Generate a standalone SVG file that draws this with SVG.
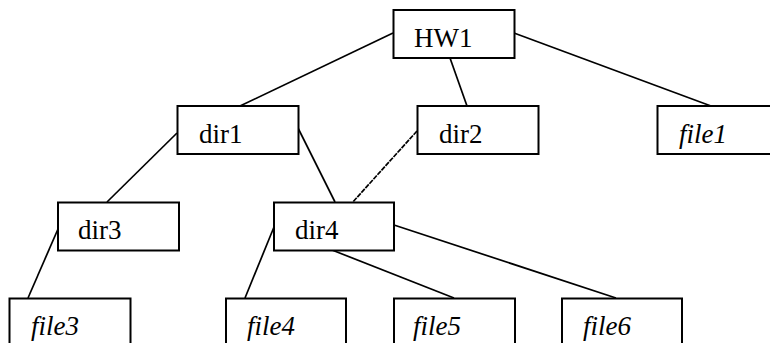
<svg xmlns="http://www.w3.org/2000/svg" width="770" height="343" viewBox="0 0 770 343">
<style>
.box{fill:#fff;stroke:#000;stroke-width:2}
.t{font-size:27px;fill:#000}
.i{font-style:italic}
.c{stroke:#000;stroke-width:1.7;fill:none}
.d{stroke-dasharray:5 1}
</style>
<rect width="770" height="343" fill="#fff"/>
<g id="connectors">
<line class="c" x1="393" y1="33" x2="240" y2="106"/>
<line class="c" x1="450" y1="58" x2="467" y2="106"/>
<line class="c" x1="514" y1="33" x2="711" y2="106"/>
<line class="c" x1="177" y1="133" x2="107" y2="202"/>
<line class="c" x1="298" y1="128" x2="335" y2="202"/>
<line class="c d" x1="417" y1="131" x2="352" y2="203"/>
<line class="c" x1="58" y1="229" x2="28" y2="298"/>
<line class="c" x1="274" y1="227" x2="245" y2="298"/>
<line class="c" x1="332" y1="250" x2="454" y2="298"/>
<line class="c" x1="394" y1="225" x2="616" y2="298"/>
</g>
<g font-family="Liberation Serif, Times New Roman, serif">
<g id="HW1"><rect class="box" x="393.5" y="10" width="121" height="48"/><text class="t" x="414" y="47">HW1</text></g>
<g id="dir1"><rect class="box" x="177.5" y="106" width="121" height="48"/><text class="t" x="199" y="143">dir1</text></g>
<g id="dir2"><rect class="box" x="417.5" y="106" width="121" height="48"/><text class="t" x="439" y="143">dir2</text></g>
<g id="file1"><rect class="box" x="657.5" y="106" width="121" height="48"/><text class="t i" x="679" y="143">file1</text></g>
<g id="dir3"><rect class="box" x="58" y="202.5" width="121" height="48"/><text class="t" x="78" y="239">dir3</text></g>
<g id="dir4"><rect class="box" x="274" y="202.5" width="120" height="48"/><text class="t" x="295" y="239">dir4</text></g>
<g id="file3"><rect class="box" x="9.5" y="298.5" width="121" height="48"/><text class="t i" x="31" y="335">file3</text></g>
<g id="file4"><rect class="box" x="226" y="298.5" width="120" height="48"/><text class="t i" x="247" y="335">file4</text></g>
<g id="file5"><rect class="box" x="394" y="298.5" width="121" height="48"/><text class="t i" x="413" y="335">file5</text></g>
<g id="file6"><rect class="box" x="562" y="298.5" width="120" height="48"/><text class="t i" x="583" y="335">file6</text></g>
</g>
</svg>
